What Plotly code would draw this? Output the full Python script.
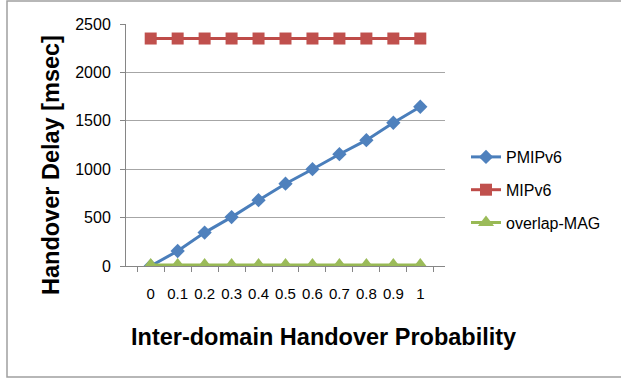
import plotly.graph_objects as go

categories = ["0", "0.1", "0.2", "0.3", "0.4", "0.5", "0.6", "0.7", "0.8", "0.9", "1"]
pmipv6 = [0, 155, 345, 505, 680, 850, 1000, 1155, 1300, 1480, 1645]
mipv6 = [2350] * 11
overlap_mag = [10] * 11
y_ticks = [0, 500, 1000, 1500, 2000, 2500]

FONT = "Liberation Sans, Arial, sans-serif"

fig = go.Figure()
fig.add_trace(go.Scatter(x=categories, y=pmipv6, name="PMIPv6", mode="lines+markers",
                         legendgroup="a",
                         line=dict(color="#4A7EBB", width=3),
                         marker=dict(symbol="diamond", size=11, color="#4F81BD")))
fig.add_trace(go.Scatter(x=categories, y=mipv6, name="MIPv6", mode="lines+markers",
                         legendgroup="b",
                         line=dict(color="#BE4B48", width=3),
                         marker=dict(symbol="square", size=12, color="#C0504D")))
fig.add_trace(go.Scatter(x=categories, y=overlap_mag, name="overlap-MAG", mode="lines+markers",
                         legendgroup="c",
                         line=dict(color="#98B954", width=3),
                         marker=dict(symbol="triangle-up", size=14, color="#9BBB59")))

L, R, T, B = 126, 176, 24, 113
W, H = 621, 379
pw = W - L - R
ph = H - T - B

def px_x(px):
    return (px - L) / pw

def px_y(py):
    return (H - B - py) / ph

fig.update_layout(
    width=W, height=H,
    margin=dict(l=L, r=R, t=T, b=B, pad=0, autoexpand=False),
    paper_bgcolor="white", plot_bgcolor="white",
    font=dict(family=FONT, size=16, color="#000000"),
    hovermode=False,
    legend=dict(x=px_x(466), xanchor="left", y=px_y(140), yanchor="top",
                font=dict(family=FONT, size=16, color="#000000"),
                tracegroupgap=9, bgcolor="rgba(0,0,0,0)"),
    xaxis=dict(type="category", tickson="boundaries", ticks="outside", ticklen=5,
               tickcolor="#868686", showline=True, linecolor="#868686", linewidth=1,
               showgrid=False, ticklabelstandoff=14, tickangle=0, automargin=False,
               tickfont=dict(family=FONT, size=15, color="#000000")),
    yaxis=dict(range=[0, 2500], tickvals=y_ticks, ticks="outside", ticklen=5,
               tickcolor="#868686", showline=True, linecolor="#868686", linewidth=1,
               showgrid=True, gridcolor="#A6A6A6", gridwidth=1, zeroline=False,
               ticklabelstandoff=6, automargin=False,
               tickfont=dict(family=FONT, size=16, color="#000000")),
    shapes=[dict(type="rect", xref="paper", yref="paper",
                 x0=px_x(7), x1=px_x(640), y0=px_y(377), y1=px_y(1),
                 line=dict(color="#A0A0A0", width=1.5), fillcolor="rgba(0,0,0,0)",
                 layer="below")],
    annotations=[
        dict(text="<b>Inter-domain Handover Probability</b>", xref="paper", yref="paper",
             x=px_x(323), y=px_y(337), xanchor="center", yanchor="middle", showarrow=False,
             font=dict(family=FONT, size=23.5, color="#000000")),
        dict(text="<b>Handover Delay [msec]</b>", xref="paper", yref="paper",
             x=px_x(51), y=px_y(165), xanchor="center", yanchor="middle", showarrow=False,
             textangle=-90, font=dict(family=FONT, size=23.5, color="#000000")),
    ],
)

fig.write_html("out.html", config={"displayModeBar": False},
               post_script="document.body.style.margin='0';document.body.style.overflow='hidden';")
